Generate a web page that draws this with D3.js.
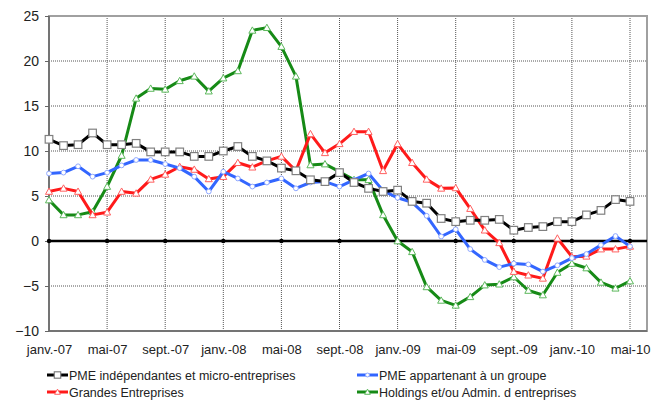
<!DOCTYPE html>
<html>
<head>
<meta charset="utf-8">
<script src="https://cdn.jsdelivr.net/npm/d3@7/dist/d3.min.js"></script>
<style>
  body { margin: 0; background: #fff; }
  svg { font-family: Arial, "Liberation Sans", sans-serif; }
</style>
</head>
<body>
<svg id="chart" width="653" height="401"></svg>
<script>
// monthly values, janv.-07 .. mai-10
var pmeIndependantes = [11.3, 10.6, 10.7, 12.0, 10.7, 10.7, 10.85, 9.9, 9.9, 9.9, 9.4, 9.4, 10.0, 10.5, 9.4, 8.9, 8.1, 7.8, 6.8, 6.6, 7.6, 6.5, 5.85, 5.5, 5.65, 4.4, 4.2, 2.5, 2.15, 2.3, 2.3, 2.4, 1.2, 1.5, 1.6, 2.15, 2.15, 2.9, 3.4, 4.6, 4.4];
var pmeGroupe = [7.5, 7.6, 8.3, 7.15, 7.6, 8.4, 9.0, 9.0, 8.55, 8.1, 7.15, 5.5, 7.7, 6.95, 6.05, 6.5, 6.95, 5.85, 6.5, 6.6, 6.05, 6.8, 7.5, 5.6, 4.8, 4.3, 2.8, 0.5, 1.3, -0.9, -2.1, -2.9, -2.5, -2.6, -3.4, -2.7, -1.9, -1.45, -0.45, 0.55, -0.6];
var grandesEntreprises = [5.5, 5.85, 5.5, 2.9, 3.2, 5.5, 5.3, 6.85, 7.4, 8.25, 7.95, 6.9, 7.15, 8.7, 8.2, 8.9, 9.4, 7.8, 11.9, 9.8, 10.8, 12.15, 12.15, 7.8, 10.8, 8.7, 6.85, 5.85, 5.9, 3.6, 1.2, -0.2, -3.4, -3.8, -4.15, 0.3, -1.75, -1.7, -0.9, -0.9, -0.6];
var holdings = [4.55, 2.9, 2.9, 3.25, 6.05, 9.5, 15.85, 16.95, 16.85, 17.8, 18.3, 16.65, 18.1, 18.9, 23.4, 23.7, 21.6, 18.3, 8.45, 8.55, 7.7, 6.8, 6.8, 2.9, 0.0, -1.2, -5.1, -6.6, -7.15, -6.2, -4.9, -4.8, -4.0, -5.5, -6.0, -3.5, -2.5, -3.0, -4.6, -5.25, -4.45];

var tickLabels = ["janv.-07", "mai-07", "sept.-07", "janv.-08", "mai-08", "sept.-08", "janv.-09", "mai-09", "sept.-09", "janv.-10", "mai-10"];
var yTicks = [-10, -5, 0, 5, 10, 15, 20, 25];

var series = [
  { name: "PME indépendantes et micro-entreprises", values: pmeIndependantes, color: "#000000", marker: "square", mstroke: "#808080" },
  { name: "PME appartenant à un groupe", values: pmeGroupe, color: "#3366ff", marker: "circle", mstroke: "#8fa8ff" },
  { name: "Grandes Entreprises", values: grandesEntreprises, color: "#ff1a1a", marker: "triangle", mstroke: "#ff6060" },
  { name: "Holdings et/ou Admin. d entreprises", values: holdings, color: "#168a16", marker: "triangle", mstroke: "#5cb85c" }
];

var svg = d3.select("#chart");
var plotL = 49, plotR = 647, plotT = 16, plotB = 331;

var x = d3.scaleLinear().domain([0, 41.17]).range([plotL, plotR]);
var y = d3.scaleLinear().domain([-10, 25]).range([plotB, plotT]);

// grid
var g = svg.append("g");
g.selectAll("line.hgrid").data(yTicks.filter(function(d) { return d !== -10 && d !== 0 && d !== 25; }))
  .enter().append("line")
  .attr("x1", plotL).attr("x2", plotR)
  .attr("y1", function(d) { return y(d); }).attr("y2", function(d) { return y(d); })
  .attr("stroke", "#555").attr("stroke-width", 1).attr("stroke-dasharray", "1,1");

var tickIdx = tickLabels.map(function(d, i) { return i * 4; });
g.selectAll("line.vgrid").data(tickIdx.slice(1))
  .enter().append("line")
  .attr("x1", function(d) { return x(d); }).attr("x2", function(d) { return x(d); })
  .attr("y1", plotT).attr("y2", plotB)
  .attr("stroke", "#555").attr("stroke-width", 1).attr("stroke-dasharray", "1,1");

// frame
svg.append("rect").attr("x", plotL).attr("y", plotT).attr("width", plotR - plotL).attr("height", plotB - plotT)
  .attr("fill", "none").attr("stroke", "#a0a0a0").attr("stroke-width", 2);
svg.append("line").attr("x1", plotL).attr("x2", plotL).attr("y1", plotT).attr("y2", plotB)
  .attr("stroke", "#666").attr("stroke-width", 1.5);
svg.append("line").attr("x1", plotL).attr("x2", plotR).attr("y1", plotB).attr("y2", plotB)
  .attr("stroke", "#666").attr("stroke-width", 1.5);

// y axis
var yAxis = d3.axisLeft(y).tickValues(yTicks).tickSize(4).tickFormat(d3.format("d"));
svg.append("g").attr("transform", "translate(" + plotL + ",0)").call(yAxis)
  .call(function(s) {
    s.select(".domain").remove();
    s.selectAll(".tick line").attr("stroke", "#666");
    s.selectAll(".tick text").attr("font-size", 14).attr("fill", "#222").attr("font-family", "Arial, 'Liberation Sans', sans-serif").attr("x", -10);
  });

// x axis labels at bottom
var xAxis = d3.axisBottom(x).tickValues(tickIdx).tickSize(0).tickFormat(function(d, i) { return tickLabels[i]; });
svg.append("g").attr("transform", "translate(0," + plotB + ")").call(xAxis)
  .call(function(s) {
    s.select(".domain").remove();
    s.selectAll(".tick text").attr("font-size", 13).attr("fill", "#222").attr("font-family", "Arial, 'Liberation Sans', sans-serif").attr("dy", "1.55em");
  });

// zero line
svg.append("line").attr("x1", plotL).attr("x2", plotR).attr("y1", y(0)).attr("y2", y(0))
  .attr("stroke", "#000").attr("stroke-width", 2.5);
svg.selectAll("circle.zt").data(tickIdx).enter().append("circle")
  .attr("cx", function(d) { return x(d); }).attr("cy", y(0)).attr("r", 2.2).attr("fill", "#000");

var line = d3.line().x(function(d, i) { return x(i); }).y(function(d) { return y(d); });

function drawMarker(sel, type, cx, cy, stroke, size) {
  if (type === "square") {
    sel.append("rect").attr("x", cx - size).attr("y", cy - size).attr("width", size * 2).attr("height", size * 2)
      .attr("fill", "#fff").attr("stroke", stroke).attr("stroke-width", 1.2);
  } else if (type === "circle") {
    sel.append("circle").attr("cx", cx).attr("cy", cy).attr("r", size * 0.75)
      .attr("fill", "#fff").attr("stroke", stroke).attr("stroke-width", 1);
  } else {
    var h = size * 1.1;
    sel.append("path").attr("d", "M" + cx + "," + (cy - h) + "L" + (cx + h) + "," + (cy + h * 0.8) + "L" + (cx - h) + "," + (cy + h * 0.8) + "Z")
      .attr("fill", "#fff").attr("stroke", stroke).attr("stroke-width", 1);
  }
}

// draw order: holdings under, then others
[3, 2, 1, 0].forEach(function(k) {
  var s = series[k];
  var sg = svg.append("g");
  sg.append("path").datum(s.values).attr("d", line)
    .attr("fill", "none").attr("stroke", s.color).attr("stroke-width", 3).attr("stroke-linejoin", "round");
  s.values.forEach(function(v, i) {
    drawMarker(sg, s.marker, x(i), y(v), s.mstroke, s.marker === "square" ? 3.8 : 3.2);
  });
});

// legend
var legendPos = [[47, 375], [357, 375], [47, 392], [357, 392]];
series.forEach(function(s, k) {
  var p = legendPos[k];
  var lg = svg.append("g");
  lg.append("line").attr("x1", p[0]).attr("x2", p[0] + 21).attr("y1", p[1]).attr("y2", p[1])
    .attr("stroke", s.color).attr("stroke-width", 3);
  drawMarker(lg, s.marker, p[0] + 10.5, p[1], s.mstroke, s.marker === "square" ? 3.2 : 2.6);
  lg.append("text").attr("x", p[0] + 22).attr("y", p[1] + 4.5).attr("font-size", 12.5).attr("fill", "#222")
    .text(s.name);
});
</script>
</body>
</html>
